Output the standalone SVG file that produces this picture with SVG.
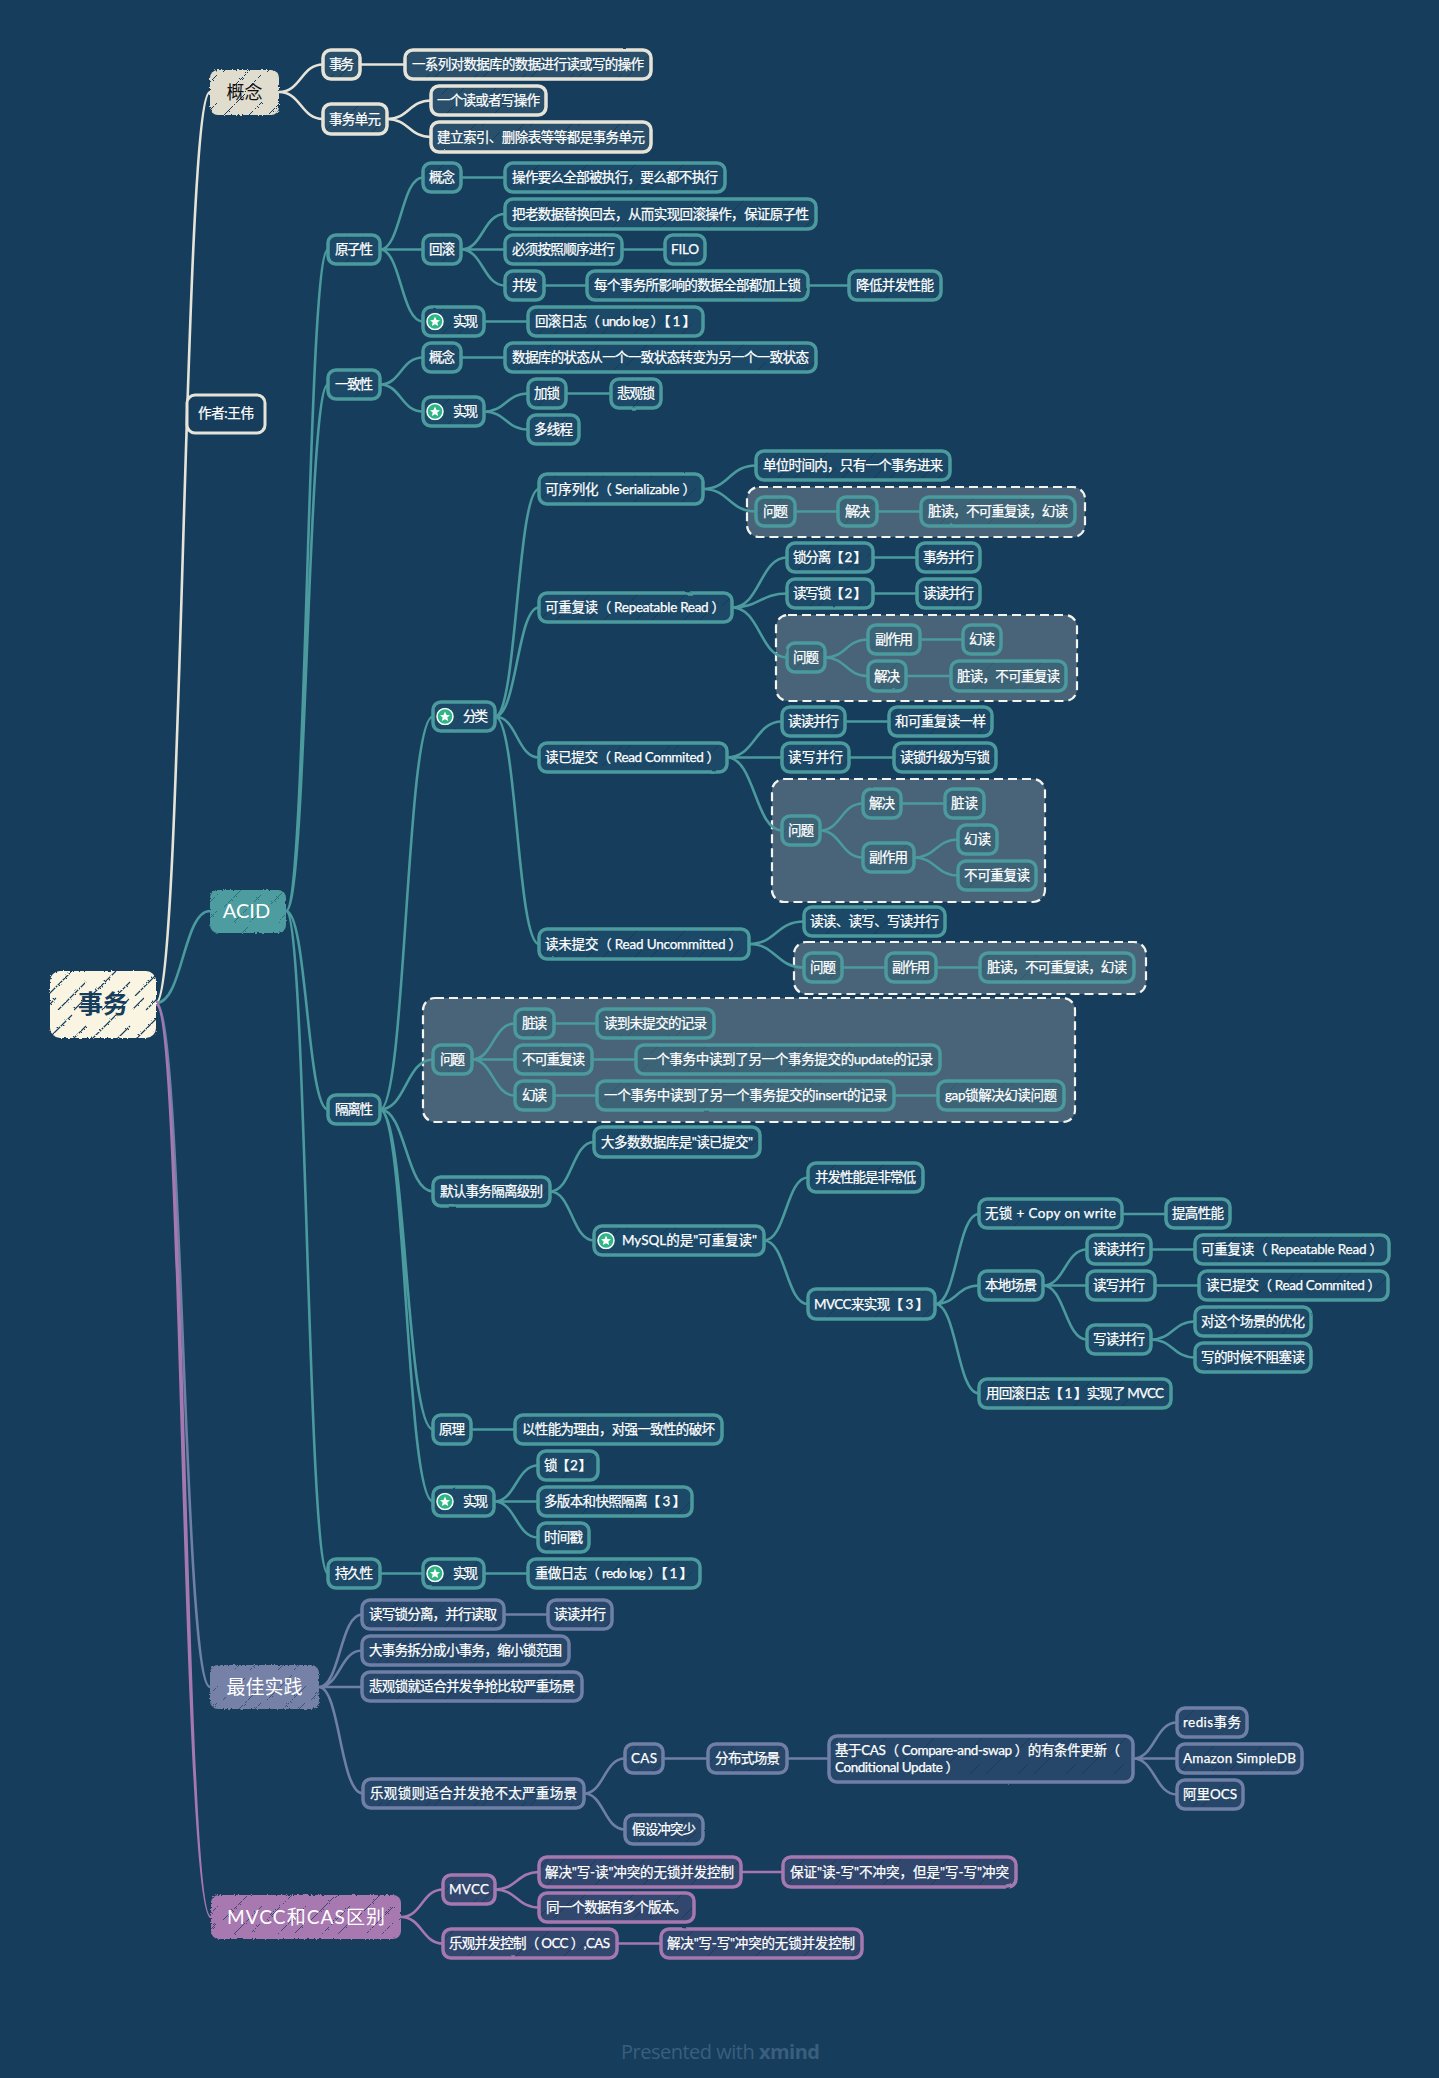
<svg xmlns="http://www.w3.org/2000/svg" width="1439" height="2078" viewBox="0 0 1439 2078">
<style>
text{font-family:"Lato","Noto Sans CJK SC","Noto Sans",sans-serif}
.l{fill:#fff;font-size:13.500px;stroke:#fff;stroke-width:.25}
.n{stroke-width:3.500}
.t{stroke:#4b9a9d;fill:url(#ht)}
.ti{stroke:#4b9a9d;fill:url(#hi)}
.w{stroke:#e6e4d8;fill:url(#hw)}
.g{stroke:#6f7fa6;fill:url(#hg)}
.p{stroke:#a678b0;fill:url(#hp)}
.n{filter:url(#rough)}
.m{filter:url(#fuzz);stroke:none}
.box{fill:#4a6478;stroke:#f4f4ee;stroke-width:2.200;stroke-dasharray:9 5;filter:url(#rough)}
#connectors path{fill:none;stroke-width:2.600;stroke-linecap:round}
.cw{stroke:#e6e4d8}
.ct{stroke:#4b9a9d}
.cg{stroke:#6f7fa6}
.cp{stroke:#a678b0}
#connectors path.taper{fill:#a678b0;stroke:none}
</style>
<defs>
<filter id="rough" x="-6%" y="-15%" width="112%" height="130%"><feTurbulence type="fractalNoise" baseFrequency="0.05" numOctaves="2" seed="4" result="r"/><feDisplacementMap in="SourceGraphic" in2="r" scale="1.500"/></filter>
<filter id="fuzz" x="-6%" y="-10%" width="112%" height="120%"><feTurbulence type="fractalNoise" baseFrequency="0.45" numOctaves="2" seed="7" result="r"/><feDisplacementMap in="SourceGraphic" in2="r" scale="3"/></filter>
<pattern id="ht" width="48" height="48" patternUnits="userSpaceOnUse"><rect width="48" height="48" fill="#1f4a68"/><path d="M2 30L24 8M26 46L46 26M10 46L20 36" stroke="#143a56" stroke-width="1"/></pattern>
<pattern id="hi" width="48" height="48" patternUnits="userSpaceOnUse"><rect width="48" height="48" fill="#3d6377"/><path d="M2 30L24 8M26 46L46 26" stroke="#35586c" stroke-width="1"/></pattern>
<pattern id="hw" width="48" height="48" patternUnits="userSpaceOnUse"><rect width="48" height="48" fill="#2a4f6a"/><path d="M2 30L24 8M26 46L46 26M10 46L20 36" stroke="#163d5c" stroke-width="1"/></pattern>
<pattern id="hg" width="48" height="48" patternUnits="userSpaceOnUse"><rect width="48" height="48" fill="#26476a"/><path d="M2 30L24 8M26 46L46 26M10 46L20 36" stroke="#163d5c" stroke-width="1"/></pattern>
<pattern id="hp" width="48" height="48" patternUnits="userSpaceOnUse"><rect width="48" height="48" fill="#33466e"/><path d="M2 30L24 8M26 46L46 26M10 46L20 36" stroke="#1b3a5c" stroke-width="1"/></pattern>
<pattern id="h0" width="44" height="44" patternUnits="userSpaceOnUse"><rect width="44" height="44" fill="#faf5e2"/><path d="M3 28L28 3M14 42L42 14M30 42L41 31M1 41L12 30" stroke="#163d5c" stroke-width="1.100"/></pattern>
<pattern id="h1" width="44" height="44" patternUnits="userSpaceOnUse"><rect width="44" height="44" fill="#e0ddcf"/><path d="M3 28L28 3M14 42L42 14M30 42L41 31" stroke="#163d5c" stroke-width="1"/></pattern>
<pattern id="h2" width="44" height="44" patternUnits="userSpaceOnUse"><rect width="44" height="44" fill="#4e9c9f"/><path d="M3 28L28 3M14 42L42 14M30 42L41 31" stroke="#2d6f7a" stroke-width="1"/></pattern>
<pattern id="h3" width="44" height="44" patternUnits="userSpaceOnUse"><rect width="44" height="44" fill="#7481a6"/><path d="M3 28L28 3M14 42L42 14M30 42L41 31" stroke="#3f5378" stroke-width="1"/></pattern>
<pattern id="h4" width="44" height="44" patternUnits="userSpaceOnUse"><rect width="44" height="44" fill="#a878b0"/><path d="M3 28L28 3M14 42L42 14M30 42L41 31" stroke="#3f4a70" stroke-width="1"/></pattern>
<symbol id="star" width="18" height="18" viewBox="0 0 18 18"><circle cx="9" cy="9" r="8" fill="#2fb586" stroke="#fff" stroke-width="1.500"/><polygon points="9,4 10.500,7.400 14,7.700 11.300,10 12.200,13.600 9,11.700 5.800,13.600 6.700,10 4,7.700 7.500,7.400" fill="#fff"/></symbol>
</defs>
<rect width="1439" height="2078" fill="#163d5c"/>
<g id="boxes">
<rect class="box" x="747" y="487" width="338" height="50" rx="12"/>
<rect class="box" x="776" y="615" width="301" height="86" rx="12"/>
<rect class="box" x="772" y="779" width="273" height="123" rx="12"/>
<rect class="box" x="794" y="942" width="352" height="52" rx="12"/>
<rect class="box" x="423" y="998" width="652" height="124" rx="12"/>
</g>
<g id="connectors">
<path class="cw" d="M156 1003C183 1003 183 92 210 92M279 92C301 92 301 64.500 323 64.500M279 92C301 92 301 119 323 119M360 64.500H405M387 119C409 119 409 100.500 431 100.500M387 119C409 119 409 137 431 137"/>
<path class="ct" d="M156 1003C183 1003 183 911 210 911M286 911C307 911 307 249.500 328 249.500M286 911C307 911 307 384.500 328 384.500M286 911C307 911 307 1109.500 328 1109.500M286 911C307 911 307 1573.500 328 1573.500"/>
<path class="ct" d="M380 249.500C401 249.500 401 177.500 423 177.500M380 249.500H423M380 249.500C401 249.500 401 321.500 423 321.500M461 177.500H505M461 249.500C483 249.500 483 214 505 214M461 249.500H505M461 249.500C483 249.500 483 285.500 505 285.500M622 249.500H665M544 285.500H587M808 285.500H849M484 321.500H528"/>
<path class="ct" d="M380 384.500C401 384.500 401 357.500 423 357.500M380 384.500C401 384.500 401 411.500 423 411.500M461 357.500H505M484 411.500C506 411.500 506 393.500 528 393.500M484 411.500C506 411.500 506 429.500 528 429.500M566 393.500H611"/>
<path class="ct" d="M380 1109.500C406 1109.500 406 716.500 433 716.500M380 1109.500C406 1109.500 406 1059.500 433 1059.500M380 1109.500C406 1109.500 406 1191.500 433 1191.500M380 1109.500C406 1109.500 406 1429.500 433 1429.500M380 1109.500C406 1109.500 406 1501.500 433 1501.500"/>
<path class="ct" d="M495 716.500C517 716.500 517 489 539 489M495 716.500C517 716.500 517 607.500 539 607.500M495 716.500C517 716.500 517 757.500 539 757.500M495 716.500C517 716.500 517 944 539 944"/>
<path class="ct" d="M703 489C729 489 729 465.500 756 465.500M703 489C729 489 729 511.500 756 511.500M795 511.500H838M877 511.500H921"/>
<path class="ct" d="M732 607.500C760 607.500 760 557.500 787 557.500M732 607.500C760 607.500 760 593.500 787 593.500M732 607.500C760 607.500 760 657.500 787 657.500M873 557.500H917M873 593.500H917M825 657.500C846 657.500 846 639.500 868 639.500M825 657.500C846 657.500 846 676 868 676M920 639.500H963M906 676H951"/>
<path class="ct" d="M727 757.500C755 757.500 755 721.500 782 721.500M727 757.500H782M727 757.500C755 757.500 755 830.500 782 830.500M845 721.500H889M849 757.500H894M820 830.500C841 830.500 841 803.500 863 803.500M820 830.500C841 830.500 841 857.500 863 857.500M901 803.500H945M914 857.500C936 857.500 936 839.500 958 839.500M914 857.500C936 857.500 936 875.500 958 875.500"/>
<path class="ct" d="M749 944C776 944 776 921.500 804 921.500M749 944C776 944 776 967.500 804 967.500M842 967.500H886M936 967.500H980"/>
<path class="ct" d="M472 1059.500C493 1059.500 493 1023.500 515 1023.500M472 1059.500H515M472 1059.500C493 1059.500 493 1095.500 515 1095.500M554 1023.500H597M592 1059.500H636M554 1095.500H597M894 1095.500H938"/>
<path class="ct" d="M550 1191.500C572 1191.500 572 1142 594 1142M550 1191.500C572 1191.500 572 1240.500 594 1240.500M764 1240.500C786 1240.500 786 1177.500 808 1177.500M764 1240.500C786 1240.500 786 1304 808 1304M935 1304C957 1304 957 1214 979 1214M935 1304C957 1304 957 1285.500 979 1285.500M935 1304C957 1304 957 1393.500 979 1393.500M1122 1214H1166M1043 1285.500C1065 1285.500 1065 1249.500 1087 1249.500M1043 1285.500H1087M1043 1285.500C1065 1285.500 1065 1339.500 1087 1339.500M1151 1249.500H1195M1155 1285.500H1199M1151 1339.500C1173 1339.500 1173 1321.500 1195 1321.500M1151 1339.500C1173 1339.500 1173 1357.500 1195 1357.500"/>
<path class="ct" d="M471 1429.500H515M494 1501.500C516 1501.500 516 1465.500 538 1465.500M494 1501.500H538M494 1501.500C516 1501.500 516 1537.500 538 1537.500M380 1573.500H423M484 1573.500H528"/>
<path class="cg" d="M156 1003C183 1003 183 1687 210 1687M319 1687C340 1687 340 1614.500 362 1614.500M319 1687C340 1687 340 1650.500 362 1650.500M319 1687H362M319 1687C340 1687 340 1793.500 363 1793.500M504 1614.500H548M584 1793.500C604 1793.500 604 1758.500 625 1758.500M584 1793.500C604 1793.500 604 1829.500 625 1829.500M663 1758.500H708M787 1758.500H829M1133 1758.500C1155 1758.500 1155 1722.500 1177 1722.500M1133 1758.500H1177M1133 1758.500C1155 1758.500 1155 1794.500 1177 1794.500"/>
<path class="taper" d="M156 1000.500C186 1000.500 186 1917 211 1915.800L211 1918.200C181 1917 181 1005.500 156 1005.500Z"/>
<path class="cp" d="M401 1917C422 1917 422 1889.500 443 1889.500M401 1917C422 1917 422 1943.500 443 1943.500M495 1889.500C517 1889.500 517 1872 539 1872M495 1889.500C517 1889.500 517 1907.500 539 1907.500M741 1872H783M617 1943.500H661"/>
</g>
<g id="root"><rect class="m" x="50" y="971" width="106" height="67" rx="10" fill="url(#h0)"/><text x="103" y="1013" text-anchor="middle" font-size="25" font-weight="700" fill="#163d5c">事务</text></g>
<g id="main1"><rect class="m" x="210" y="70" width="69" height="45" rx="8" fill="url(#h1)"/><text x="244.500" y="99" text-anchor="middle" font-size="18" fill="#111">概念</text></g>
<g id="main2"><rect class="m" x="210" y="890" width="76" height="43" rx="8" fill="url(#h2)"/><text x="246.500" y="918" text-anchor="middle" font-size="20" fill="#fff">ACID</text></g>
<g id="main3"><rect class="m" x="210" y="1665" width="109" height="44" rx="8" fill="url(#h3)"/><text x="264.500" y="1694" text-anchor="middle" font-size="19" fill="#fff">最佳实践</text></g>
<g id="main4"><rect class="m" x="211" y="1895" width="190" height="44" rx="8" fill="url(#h4)"/><text x="306" y="1924" text-anchor="middle" font-size="19" fill="#fff" textLength="158">MVCC和CAS区别</text></g>
<g id="author"><rect x="187" y="395" width="78" height="38" rx="8" fill="#163d5c" stroke="#e6e4d8" stroke-width="3" filter="url(#rough)"/><text class="l" x="198" y="418" textLength="56">作者:王伟</text></g>
<g id="w1"><rect class="n w" x="323" y="50" width="37" height="29" rx="8"/><text class="l" x="329" y="69" textLength="25">事务</text></g>
<g id="w2"><rect class="n w" x="405" y="50" width="246" height="29" rx="8"/><text class="l" x="412" y="69" textLength="232">一系列对数据库的数据进行读或写的操作</text></g>
<g id="w3"><rect class="n w" x="323" y="104" width="64" height="30" rx="8"/><text class="l" x="329" y="124" textLength="52">事务单元</text></g>
<g id="w4"><rect class="n w" x="431" y="86" width="115" height="29" rx="8"/><text class="l" x="437" y="105" textLength="103">一个读或者写操作</text></g>
<g id="w5"><rect class="n w" x="431" y="122" width="220" height="30" rx="8"/><text class="l" x="437" y="142" textLength="208">建立索引、删除表等等都是事务单元</text></g>
<g id="t1"><rect class="n t" x="328" y="235" width="52" height="29" rx="8"/><text class="l" x="335" y="254" textLength="38">原子性</text></g>
<g id="t2"><rect class="n t" x="423" y="163" width="38" height="29" rx="8"/><text class="l" x="429" y="182" textLength="26">概念</text></g>
<g id="t3"><rect class="n t" x="505" y="163" width="220" height="29" rx="8"/><text class="l" x="512" y="182" textLength="206">操作要么全部被执行，要么都不执行</text></g>
<g id="t4"><rect class="n t" x="505" y="199" width="311" height="30" rx="8"/><text class="l" x="512" y="219" textLength="297">把老数据替换回去，从而实现回滚操作，保证原子性</text></g>
<g id="t5"><rect class="n t" x="423" y="235" width="38" height="29" rx="8"/><text class="l" x="429" y="254" textLength="26">回滚</text></g>
<g id="t6"><rect class="n t" x="505" y="235" width="117" height="29" rx="8"/><text class="l" x="512" y="254" textLength="103">必须按照顺序进行</text></g>
<g id="t7"><rect class="n t" x="665" y="235" width="40" height="29" rx="8"/><text class="l" x="671" y="254" textLength="28">FILO</text></g>
<g id="t8"><rect class="n t" x="505" y="271" width="39" height="29" rx="8"/><text class="l" x="512" y="290" textLength="25">并发</text></g>
<g id="t9"><rect class="n t" x="587" y="271" width="221" height="29" rx="8"/><text class="l" x="594" y="290" textLength="207">每个事务所影响的数据全部都加上锁</text></g>
<g id="t10"><rect class="n t" x="849" y="271" width="92" height="29" rx="8"/><text class="l" x="856" y="290" textLength="78">降低并发性能</text></g>
<g id="t11"><rect class="n t" x="423" y="307" width="61" height="29" rx="8"/><use href="#star" x="426" y="312.500"/><text class="l" x="453" y="326" textLength="25">实现</text></g>
<g id="t12"><rect class="n t" x="528" y="307" width="175" height="29" rx="8"/><text class="l" x="535" y="326" textLength="161">回滚日志（ undo log ）【 1 】</text></g>
<g id="t13"><rect class="n t" x="328" y="370" width="52" height="29" rx="8"/><text class="l" x="335" y="389" textLength="38">一致性</text></g>
<g id="t14"><rect class="n t" x="423" y="343" width="38" height="29" rx="8"/><text class="l" x="429" y="362" textLength="26">概念</text></g>
<g id="t15"><rect class="n t" x="505" y="343" width="311" height="29" rx="8"/><text class="l" x="512" y="362" textLength="297">数据库的状态从一个一致状态转变为另一个一致状态</text></g>
<g id="t16"><rect class="n t" x="423" y="397" width="61" height="29" rx="8"/><use href="#star" x="426" y="402.500"/><text class="l" x="453" y="416" textLength="25">实现</text></g>
<g id="t17"><rect class="n t" x="528" y="379" width="38" height="29" rx="8"/><text class="l" x="534" y="398" textLength="26">加锁</text></g>
<g id="t18"><rect class="n t" x="611" y="379" width="50" height="29" rx="8"/><text class="l" x="617" y="398" textLength="38">悲观锁</text></g>
<g id="t19"><rect class="n t" x="528" y="415" width="51" height="29" rx="8"/><text class="l" x="534" y="434" textLength="39">多线程</text></g>
<g id="t20"><rect class="n t" x="328" y="1095" width="52" height="29" rx="8"/><text class="l" x="335" y="1114" textLength="38">隔离性</text></g>
<g id="t21"><rect class="n t" x="433" y="702" width="62" height="29" rx="8"/><use href="#star" x="436" y="707.500"/><text class="l" x="463" y="721" textLength="25">分类</text></g>
<g id="t22"><rect class="n t" x="539" y="474" width="164" height="30" rx="8"/><text class="l" x="545" y="494" textLength="151">可序列化（ Serializable ）</text></g>
<g id="t23"><rect class="n t" x="756" y="451" width="194" height="29" rx="8"/><text class="l" x="763" y="470" textLength="180">单位时间内，只有一个事务进来</text></g>
<g id="t24"><rect class="n ti" x="756" y="497" width="39" height="29" rx="8"/><text class="l" x="763" y="516" textLength="25">问题</text></g>
<g id="t25"><rect class="n ti" x="838" y="497" width="39" height="29" rx="8"/><text class="l" x="845" y="516" textLength="25">解决</text></g>
<g id="t26"><rect class="n ti" x="921" y="497" width="154" height="29" rx="8"/><text class="l" x="928" y="516" textLength="140">脏读，不可重复读，幻读</text></g>
<g id="t27"><rect class="n t" x="539" y="593" width="193" height="29" rx="8"/><text class="l" x="545" y="612" textLength="180">可重复读（ Repeatable Read ）</text></g>
<g id="t28"><rect class="n t" x="787" y="543" width="86" height="29" rx="8"/><text class="l" x="793" y="562" textLength="74">锁分离【 2 】</text></g>
<g id="t29"><rect class="n t" x="917" y="543" width="63" height="29" rx="8"/><text class="l" x="923" y="562" textLength="51">事务并行</text></g>
<g id="t30"><rect class="n t" x="787" y="579" width="86" height="29" rx="8"/><text class="l" x="793" y="598" textLength="74">读写锁【 2 】</text></g>
<g id="t31"><rect class="n t" x="917" y="579" width="63" height="29" rx="8"/><text class="l" x="923" y="598" textLength="51">读读并行</text></g>
<g id="t32"><rect class="n ti" x="787" y="643" width="38" height="29" rx="8"/><text class="l" x="793" y="662" textLength="26">问题</text></g>
<g id="t33"><rect class="n ti" x="868" y="625" width="52" height="29" rx="8"/><text class="l" x="875" y="644" textLength="38">副作用</text></g>
<g id="t34"><rect class="n ti" x="963" y="625" width="38" height="29" rx="8"/><text class="l" x="969" y="644" textLength="26">幻读</text></g>
<g id="t35"><rect class="n ti" x="868" y="661" width="38" height="30" rx="8"/><text class="l" x="874" y="681" textLength="26">解决</text></g>
<g id="t36"><rect class="n ti" x="951" y="661" width="115" height="30" rx="8"/><text class="l" x="957" y="681" textLength="103">脏读，不可重复读</text></g>
<g id="t37"><rect class="n t" x="539" y="743" width="188" height="29" rx="8"/><text class="l" x="545" y="762" textLength="175">读已提交（ Read Commited ）</text></g>
<g id="t38"><rect class="n t" x="782" y="707" width="63" height="29" rx="8"/><text class="l" x="788" y="726" textLength="51">读读并行</text></g>
<g id="t39"><rect class="n t" x="889" y="707" width="103" height="29" rx="8"/><text class="l" x="895" y="726" textLength="91">和可重复读一样</text></g>
<g id="t40"><rect class="n t" x="782" y="743" width="67" height="29" rx="8"/><text class="l" x="788" y="762" textLength="55">读写并行</text></g>
<g id="t41"><rect class="n t" x="894" y="743" width="102" height="29" rx="8"/><text class="l" x="900" y="762" textLength="90">读锁升级为写锁</text></g>
<g id="t42"><rect class="n ti" x="782" y="816" width="38" height="29" rx="8"/><text class="l" x="788" y="835" textLength="26">问题</text></g>
<g id="t43"><rect class="n ti" x="863" y="789" width="38" height="29" rx="8"/><text class="l" x="869" y="808" textLength="26">解决</text></g>
<g id="t44"><rect class="n ti" x="945" y="789" width="39" height="29" rx="8"/><text class="l" x="951" y="808" textLength="27">脏读</text></g>
<g id="t45"><rect class="n ti" x="863" y="843" width="51" height="29" rx="8"/><text class="l" x="869" y="862" textLength="39">副作用</text></g>
<g id="t46"><rect class="n ti" x="958" y="825" width="39" height="29" rx="8"/><text class="l" x="964" y="844" textLength="27">幻读</text></g>
<g id="t47"><rect class="n ti" x="958" y="861" width="78" height="29" rx="8"/><text class="l" x="964" y="880" textLength="66">不可重复读</text></g>
<g id="t48"><rect class="n t" x="539" y="929" width="210" height="30" rx="8"/><text class="l" x="545" y="949" textLength="197">读未提交（ Read Uncommitted ）</text></g>
<g id="t49"><rect class="n t" x="804" y="907" width="141" height="29" rx="8"/><text class="l" x="810" y="926" textLength="129">读读、读写、写读并行</text></g>
<g id="t50"><rect class="n ti" x="804" y="953" width="38" height="29" rx="8"/><text class="l" x="810" y="972" textLength="26">问题</text></g>
<g id="t51"><rect class="n ti" x="886" y="953" width="50" height="29" rx="8"/><text class="l" x="892" y="972" textLength="38">副作用</text></g>
<g id="t52"><rect class="n ti" x="980" y="953" width="154" height="29" rx="8"/><text class="l" x="987" y="972" textLength="140">脏读，不可重复读，幻读</text></g>
<g id="t53"><rect class="n ti" x="433" y="1045" width="39" height="29" rx="8"/><text class="l" x="440" y="1064" textLength="25">问题</text></g>
<g id="t54"><rect class="n ti" x="515" y="1009" width="39" height="29" rx="8"/><text class="l" x="522" y="1028" textLength="25">脏读</text></g>
<g id="t55"><rect class="n ti" x="597" y="1009" width="117" height="29" rx="8"/><text class="l" x="604" y="1028" textLength="103">读到未提交的记录</text></g>
<g id="t56"><rect class="n ti" x="515" y="1045" width="77" height="29" rx="8"/><text class="l" x="522" y="1064" textLength="63">不可重复读</text></g>
<g id="t57"><rect class="n ti" x="636" y="1045" width="304" height="29" rx="8"/><text class="l" x="643" y="1064" textLength="290">一个事务中读到了另一个事务提交的update的记录</text></g>
<g id="t58"><rect class="n ti" x="515" y="1081" width="39" height="29" rx="8"/><text class="l" x="522" y="1100" textLength="25">幻读</text></g>
<g id="t59"><rect class="n ti" x="597" y="1081" width="297" height="29" rx="8"/><text class="l" x="604" y="1100" textLength="283">一个事务中读到了另一个事务提交的insert的记录</text></g>
<g id="t60"><rect class="n ti" x="938" y="1081" width="126" height="29" rx="8"/><text class="l" x="945" y="1100" textLength="112">gap锁解决幻读问题</text></g>
<g id="t61"><rect class="n t" x="433" y="1177" width="117" height="29" rx="8"/><text class="l" x="440" y="1196" textLength="103">默认事务隔离级别</text></g>
<g id="t62"><rect class="n t" x="594" y="1127" width="166" height="30" rx="8"/><text class="l" x="601" y="1147" textLength="152">大多数数据库是"读已提交"</text></g>
<g id="t63"><rect class="n t" x="594" y="1226" width="170" height="29" rx="8"/><use href="#star" x="597" y="1231.500"/><text class="l" x="622" y="1245" textLength="135">MySQL的是"可重复读"</text></g>
<g id="t64"><rect class="n t" x="808" y="1163" width="115" height="29" rx="8"/><text class="l" x="815" y="1182" textLength="101">并发性能是非常低</text></g>
<g id="t65"><rect class="n t" x="808" y="1289" width="127" height="30" rx="8"/><text class="l" x="814" y="1309" textLength="115">MVCC来实现【 3 】</text></g>
<g id="t66"><rect class="n t" x="979" y="1199" width="143" height="29" rx="8"/><text class="l" x="985" y="1218" textLength="131">无锁 + Copy on write</text></g>
<g id="t67"><rect class="n t" x="1166" y="1199" width="64" height="29" rx="8"/><text class="l" x="1172" y="1218" textLength="52">提高性能</text></g>
<g id="t68"><rect class="n t" x="979" y="1271" width="64" height="29" rx="8"/><text class="l" x="985" y="1290" textLength="52">本地场景</text></g>
<g id="t69"><rect class="n t" x="1087" y="1235" width="64" height="29" rx="8"/><text class="l" x="1093" y="1254" textLength="52">读读并行</text></g>
<g id="t70"><rect class="n t" x="1195" y="1235" width="194" height="29" rx="8"/><text class="l" x="1201" y="1254" textLength="182">可重复读（ Repeatable Read ）</text></g>
<g id="t71"><rect class="n t" x="1087" y="1271" width="68" height="29" rx="8"/><text class="l" x="1093" y="1290" textLength="52">读写并行</text></g>
<g id="t72"><rect class="n t" x="1199" y="1271" width="189" height="29" rx="8"/><text class="l" x="1206" y="1290" textLength="175">读已提交（ Read Commited ）</text></g>
<g id="t73"><rect class="n t" x="1087" y="1325" width="64" height="29" rx="8"/><text class="l" x="1093" y="1344" textLength="52">写读并行</text></g>
<g id="t74"><rect class="n t" x="1195" y="1307" width="116" height="29" rx="8"/><text class="l" x="1201" y="1326" textLength="104">对这个场景的优化</text></g>
<g id="t75"><rect class="n t" x="1195" y="1343" width="116" height="29" rx="8"/><text class="l" x="1201" y="1362" textLength="104">写的时候不阻塞读</text></g>
<g id="t76"><rect class="n t" x="979" y="1379" width="192" height="29" rx="8"/><text class="l" x="986" y="1398" textLength="178">用回滚日志【 1 】实现了 MVCC</text></g>
<g id="t77"><rect class="n t" x="433" y="1415" width="38" height="29" rx="8"/><text class="l" x="439" y="1434" textLength="26">原理</text></g>
<g id="t78"><rect class="n t" x="515" y="1415" width="207" height="29" rx="8"/><text class="l" x="522" y="1434" textLength="193">以性能为理由，对强一致性的破坏</text></g>
<g id="t79"><rect class="n t" x="433" y="1487" width="61" height="29" rx="8"/><use href="#star" x="436" y="1492.500"/><text class="l" x="463" y="1506" textLength="25">实现</text></g>
<g id="t80"><rect class="n t" x="538" y="1451" width="60" height="29" rx="8"/><text class="l" x="544" y="1470" textLength="48">锁【 2 】</text></g>
<g id="t81"><rect class="n t" x="538" y="1487" width="154" height="29" rx="8"/><text class="l" x="544" y="1506" textLength="142">多版本和快照隔离【 3 】</text></g>
<g id="t82"><rect class="n t" x="538" y="1523" width="51" height="29" rx="8"/><text class="l" x="544" y="1542" textLength="39">时间戳</text></g>
<g id="t83"><rect class="n t" x="328" y="1559" width="52" height="29" rx="8"/><text class="l" x="335" y="1578" textLength="38">持久性</text></g>
<g id="t84"><rect class="n t" x="423" y="1559" width="61" height="29" rx="8"/><use href="#star" x="426" y="1564.500"/><text class="l" x="453" y="1578" textLength="25">实现</text></g>
<g id="t85"><rect class="n t" x="528" y="1559" width="172" height="29" rx="8"/><text class="l" x="535" y="1578" textLength="158">重做日志（ redo log ）【 1 】</text></g>
<g id="g1"><rect class="n g" x="362" y="1600" width="142" height="29" rx="8"/><text class="l" x="369" y="1619" textLength="128">读写锁分离，并行读取</text></g>
<g id="g2"><rect class="n g" x="548" y="1600" width="64" height="29" rx="8"/><text class="l" x="554" y="1619" textLength="52">读读并行</text></g>
<g id="g3"><rect class="n g" x="362" y="1636" width="207" height="29" rx="8"/><text class="l" x="369" y="1655" textLength="193">大事务拆分成小事务，缩小锁范围</text></g>
<g id="g4"><rect class="n g" x="362" y="1672" width="220" height="29" rx="8"/><text class="l" x="369" y="1691" textLength="206">悲观锁就适合并发争抢比较严重场景</text></g>
<g id="g5"><rect class="n g" x="363" y="1779" width="221" height="29" rx="8"/><text class="l" x="370" y="1798" textLength="207">乐观锁则适合并发抢不太严重场景</text></g>
<g id="g6"><rect class="n g" x="625" y="1744" width="38" height="29" rx="8"/><text class="l" x="631" y="1763" textLength="26">CAS</text></g>
<g id="g7"><rect class="n g" x="708" y="1744" width="79" height="29" rx="8"/><text class="l" x="715" y="1763" textLength="65">分布式场景</text></g>
<g id="g8"><rect class="n g" x="829" y="1736" width="304" height="46" rx="8"/><text class="l" x="835" y="1755" textLength="285">基于CAS（ Compare-and-swap ）的有条件更新（</text><text class="l" x="835" y="1772" textLength="124">Conditional Update ）</text></g>
<g id="g9"><rect class="n g" x="1177" y="1708" width="70" height="29" rx="8"/><text class="l" x="1183" y="1727" textLength="58">redis事务</text></g>
<g id="g10"><rect class="n g" x="1177" y="1744" width="125" height="29" rx="8"/><text class="l" x="1183" y="1763" textLength="113">Amazon SimpleDB</text></g>
<g id="g11"><rect class="n g" x="1177" y="1780" width="66" height="29" rx="8"/><text class="l" x="1183" y="1799" textLength="54">阿里OCS</text></g>
<g id="g12"><rect class="n g" x="625" y="1815" width="78" height="29" rx="8"/><text class="l" x="632" y="1834" textLength="64">假设冲突少</text></g>
<g id="p1"><rect class="n p" x="443" y="1875" width="52" height="29" rx="8"/><text class="l" x="449" y="1894" textLength="40">MVCC</text></g>
<g id="p2"><rect class="n p" x="539" y="1857" width="202" height="30" rx="8"/><text class="l" x="545" y="1877" textLength="189">解决"写-读"冲突的无锁并发控制</text></g>
<g id="p3"><rect class="n p" x="783" y="1857" width="233" height="30" rx="8"/><text class="l" x="790" y="1877" textLength="219">保证"读-写"不冲突，但是"写-写"冲突</text></g>
<g id="p4"><rect class="n p" x="539" y="1893" width="155" height="29" rx="8"/><text class="l" x="546" y="1912" textLength="141">同一个数据有多个版本。</text></g>
<g id="p5"><rect class="n p" x="443" y="1929" width="174" height="29" rx="8"/><text class="l" x="449" y="1948" textLength="161">乐观并发控制（ OCC ）,CAS</text></g>
<g id="p6"><rect class="n p" x="661" y="1929" width="201" height="29" rx="8"/><text class="l" x="667" y="1948" textLength="188">解决"写-写"冲突的无锁并发控制</text></g>
<text x="621" y="2059" font-size="20" fill="#3a5f7c" style="font-family:'Open Sans',sans-serif" textLength="199">Presented with <tspan font-weight="700">xmind</tspan></text>
</svg>
